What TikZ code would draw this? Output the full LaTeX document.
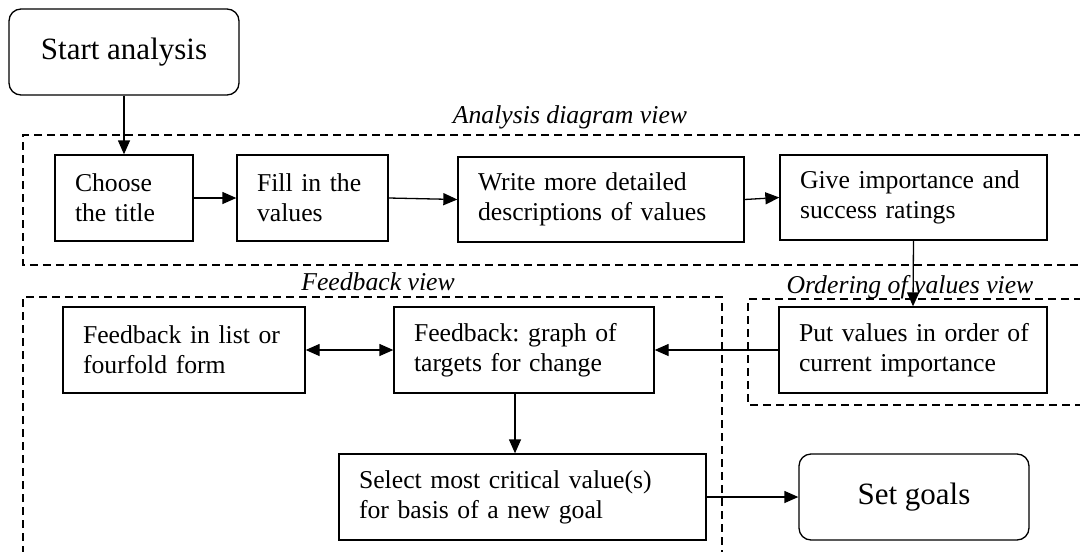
\documentclass[tikz,border=0pt]{standalone}
\usepackage{fontspec}
\setmainfont{Liberation Serif}
\usetikzlibrary{arrows.meta}
\newcommand{\twolines}[2]{\mbox{#1}\\\mbox{#2}}
\begin{document}
\frenchspacing
\begin{tikzpicture}[x=1pt,y=1pt,
  font=\fontsize{25.7}{30}\selectfont\frenchspacing,
  box/.style={draw,line width=1.3pt,inner xsep=20pt,inner ysep=0pt,align=left,minimum height=86pt},
  bigbox/.style={draw,line width=1.3pt,rounded corners=12pt,align=center,minimum height=86pt,font=\fontsize{31}{36}\selectfont},
  conn/.style={line width=1.3pt,-{Triangle[length=14pt,width=12pt]}},
  group/.style={line width=1.2pt,dash pattern=on 8pt off 5pt},
  grouplabel/.style={font=\fontsize{25.7}{30}\selectfont\itshape,anchor=base,inner sep=0pt}]
\useasboundingbox (0,0) rectangle (1080,-552);
% groups
\draw[group] (1082,-135) -- (23,-135) -- (23,-265) -- (1082,-265);
\draw[group] (23,-554) -- (23,-297) -- (722,-297) -- (722,-554);
\draw[group] (1082,-299) -- (748,-299) -- (748,-405) -- (1082,-405);
\node[grouplabel] (lab1) at (570,-123) {Analysis diagram view};
\node[grouplabel] (lab2) at (378,-290) {Feedback view};
\node[grouplabel] (lab3) at (910,-293) {Ordering of values view};
% nodes
\node[bigbox,minimum width=230pt] (start) at (124,-52) {Start analysis};
\node[box,text width=98pt] (choose) at (124,-198) {\twolines{Choose}{the title}};
\node[box,text width=111pt] (fill) at (312.5,-198) {\twolines{Fill in the}{values}};
\node[box,text width=246pt,minimum height=85pt] (write) at (601,-199.5) {\twolines{Write more detailed}{descriptions of values}};
\node[box,text width=227pt,minimum height=85pt] (give) at (913.5,-197.5) {\twolines{Give importance and}{success ratings}};
\node[box,text width=202pt] (list) at (184,-350) {\twolines{Feedback in list or}{fourfold form}};
\node[box,text width=220pt] (graph) at (524,-350) {\twolines{Feedback: graph of}{targets for change}};
\node[box,text width=228pt] (put) at (913,-350) {\twolines{Put values in order of}{current importance}};
\node[box,text width=327pt] (select) at (522.5,-497) {\twolines{Select most critical value(s)}{for basis of a new goal}};
\node[bigbox,minimum width=230pt] (set) at (914,-497) {Set goals};
% connectors
\draw[conn] (start.south) -- (choose.north);
\draw[conn] (choose.east) -- (fill.west);
\draw[conn] (fill.east) -- (write.west);
\draw[conn] (write.east) -- (give.west);
\draw[conn] (give.south) -- (put.north);
\draw[conn] (put.west) -- (graph.east);
\draw[line width=1.3pt,{Triangle[length=14pt,width=12pt]}-{Triangle[length=14pt,width=12pt]}] (list.east) -- (graph.west);
\draw[conn] ([xshift=-9pt]graph.south) -- ([xshift=-9pt]graph.south |- select.north);
\draw[conn] (select.east) -- (set.west);
\end{tikzpicture}
\end{document}
